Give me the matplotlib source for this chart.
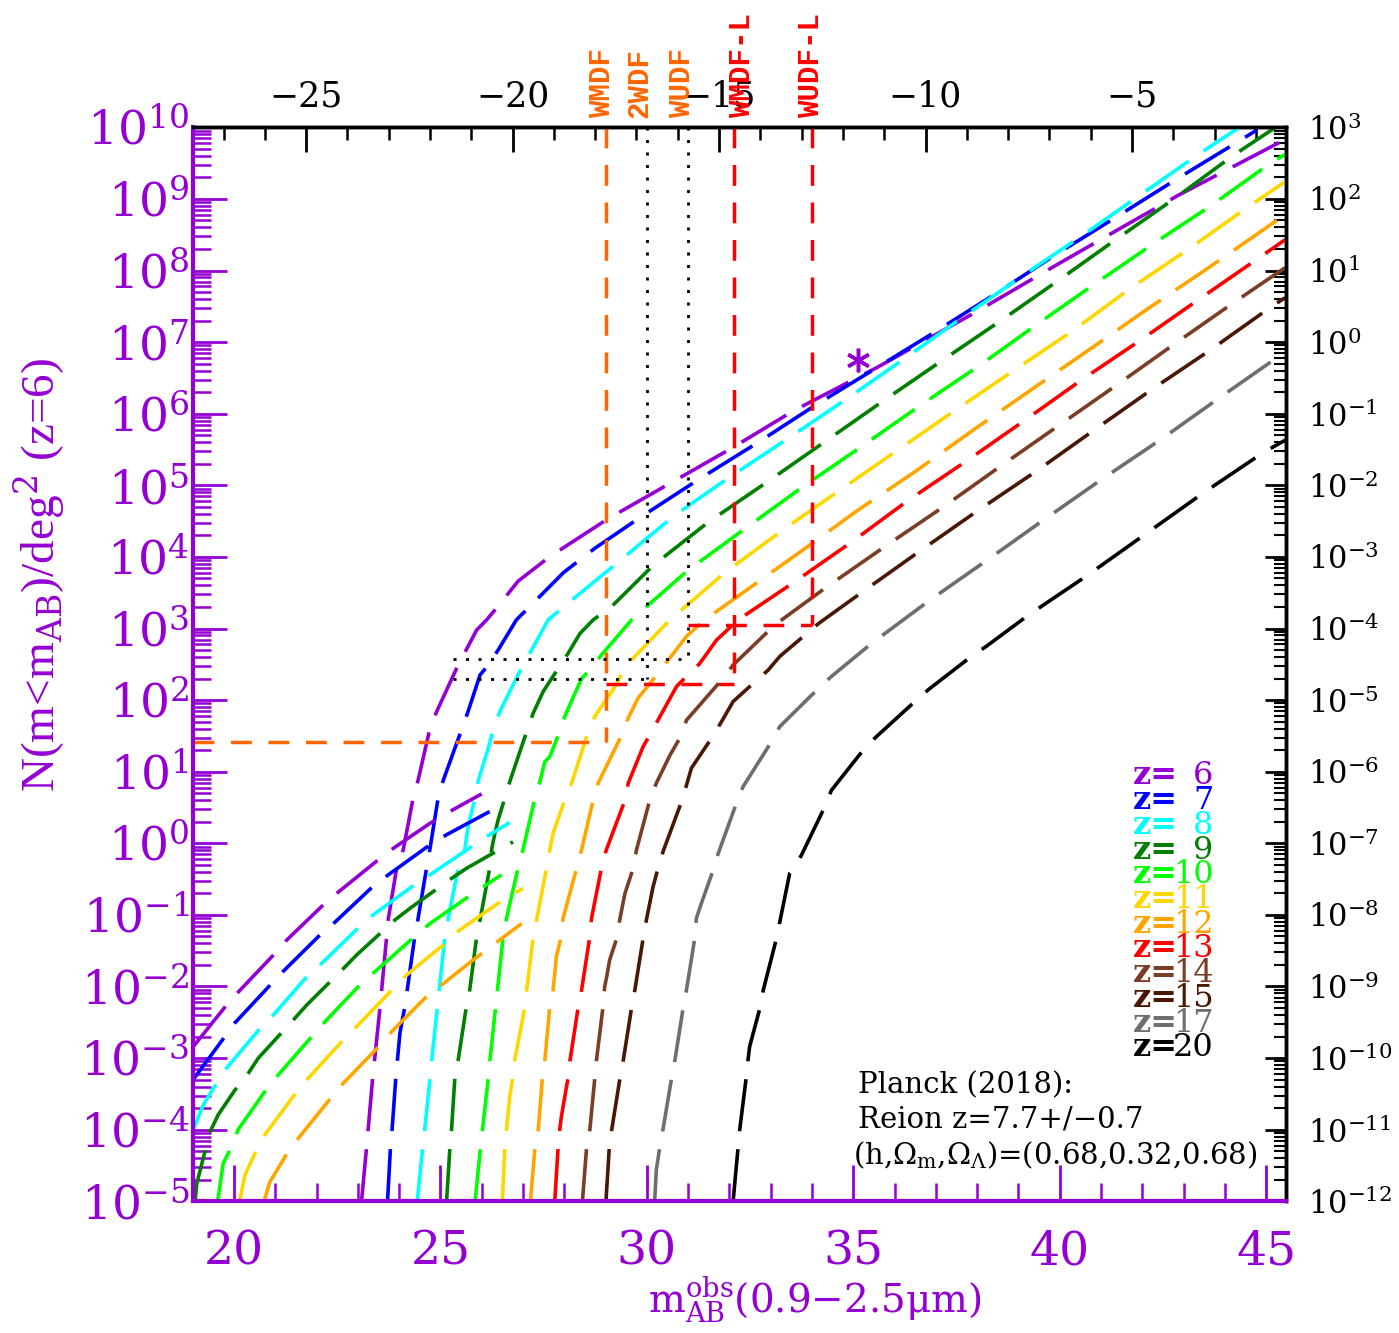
import numpy as np
import matplotlib.pyplot as plt
from matplotlib.ticker import FuncFormatter, NullFormatter, MultipleLocator, LogLocator

plt.rcParams['font.family'] = 'DejaVu Serif'
plt.rcParams['mathtext.fontset'] = 'dejavuserif'

PURPLE = '#9400d3'
M_OFFSET = 46.75  # apparent minus absolute magnitude (top axis)

redshifts = [6, 7, 8, 9, 10, 11, 12, 13, 14, 15, 17, 20]
colors = ['#9400d3', '#0000ff', '#00ffff', '#007f00', '#00ff00', '#ffd700',
          '#ffa500', '#ff0000', '#7a3d26', '#4a1705', '#6e6e6e', '#000000']

# cumulative counts, log10 N(<m)/deg^2, main branch
z6_m = [23.09, 23.21, 23.36, 23.54, 23.74, 23.94, 24.10, 24.34, 24.46, 24.75, 24.91, 25.43, 25.67, 25.88,
        26.12, 26.41, 26.88, 27.64, 29.08, 30.57, 32.06, 33.55, 35.59, 38.00, 39.90, 41.38, 42.87, 45.46]
z6_logn = [-5.0, -4.26, -3.28, -2.28, -1.05, -0.35, -0.09, 0.63, 0.88, 1.61, 1.84, 2.49, 2.75, 2.98,
           3.12, 3.32, 3.66, 4.00, 4.54, 5.03, 5.52, 6.04, 6.65, 7.43, 8.07, 8.56, 9.05, 9.83]
z7_m = [23.72, 23.79, 23.83, 23.92, 24.02, 24.14, 24.38, 24.46, 24.67, 24.75, 24.95, 25.07, 25.51, 25.67,
        25.96, 26.16, 26.40, 26.84, 27.43, 27.98, 28.74, 29.81, 31.25, 32.67, 34.06, 35.59, 37.03, 38.46,
        39.90, 41.38, 42.87, 44.35, 44.77]
z7_logn = [-5.0, -4.26, -4.0, -3.28, -2.65, -2.28, -1.30, -1.05, -0.33, -0.07, 0.65, 0.88, 1.58, 1.84,
           2.35, 2.49, 2.70, 3.12, 3.46, 3.78, 4.12, 4.54, 5.08, 5.59, 6.11, 6.65, 7.16, 7.68,
           8.22, 8.75, 9.29, 9.81, 9.96]
z8_m = [24.44, 24.57, 24.62, 24.75, 24.79, 24.93, 25.11, 25.19, 25.43, 25.59, 25.67, 25.84, 25.92, 26.16,
        26.28, 26.44, 27.00, 27.21, 27.61, 28.02, 29.25, 30.65, 31.97, 33.46, 34.90, 36.29, 37.68, 39.16,
        40.55, 41.94, 43.33, 44.35]
z8_logn = [-5.0, -4.26, -4.0, -3.28, -3.03, -2.28, -1.30, -1.05, -0.35, -0.09, 0.23, 0.63, 0.88, 1.33,
           1.58, 1.84, 2.49, 2.70, 3.12, 3.32, 3.90, 4.57, 5.10, 5.67, 6.23, 6.79, 7.36, 7.95,
           8.49, 9.05, 9.61, 10.0]
z9_m = [25.15, 25.23, 25.27, 25.35, 25.43, 25.63, 25.71, 25.88, 25.96, 26.20, 26.24, 26.32, 26.40, 26.56,
        26.68, 27.09, 27.25, 27.49, 27.85, 28.09, 28.38, 28.70, 29.17, 30.15, 31.50, 32.95, 34.34, 35.73,
        37.17, 38.60, 39.99, 41.38, 42.77, 44.21, 45.23]
z9_logn = [-5.0, -4.26, -4.0, -3.28, -3.03, -2.28, -2.05, -1.30, -1.07, -0.33, -0.09, 0.14, 0.33, 0.63,
           0.86, 1.56, 1.82, 2.12, 2.44, 2.65, 2.93, 3.12, 3.32, 3.88, 4.49, 5.06, 5.62, 6.18,
           6.75, 7.31, 7.87, 8.44, 9.00, 9.61, 10.0]
z10_m = [25.84, 25.97, 26.02, 26.16, 26.20, 26.34, 26.52, 26.60, 26.88, 27.00, 27.29, 27.41, 27.53, 27.65,
         27.89, 28.01, 28.42, 28.62, 28.90, 29.63, 30.06, 30.99, 32.39, 33.78, 35.22, 36.66, 38.05, 39.48,
         40.87, 42.31, 43.65, 45.13, 45.46]
z10_logn = [-5.0, -4.26, -4.0, -3.28, -3.03, -2.28, -1.30, -1.05, -0.35, -0.09, 0.63, 0.86, 1.14, 1.21,
            1.56, 1.77, 2.30, 2.42, 2.63, 3.12, 3.34, 3.81, 4.40, 4.98, 5.55, 6.13, 6.67, 7.26,
            7.82, 8.39, 8.90, 9.51, 9.62]
z11_m = [26.50, 26.56, 26.60, 26.68, 26.75, 26.80, 27.05, 27.09, 27.25, 27.33, 27.57, 27.65, 27.73, 28.01,
         28.18, 28.58, 28.74, 29.23, 29.43, 29.71, 30.56, 31.89, 33.28, 34.62, 36.10, 37.45, 38.88, 40.32,
         41.71, 43.15, 44.54, 45.46]
z11_logn = [-5.0, -4.26, -4.0, -3.54, -3.28, -3.03, -2.28, -2.05, -1.30, -1.07, -0.35, -0.09, 0.14, 0.60,
            0.84, 1.56, 1.77, 2.19, 2.40, 2.61, 3.12, 3.78, 4.37, 4.91, 5.50, 6.04, 6.60, 7.16,
            7.75, 8.31, 8.88, 9.24]
z12_m = [27.18, 27.29, 27.37, 27.47, 27.53, 27.65, 27.73, 27.81, 27.93, 27.97, 28.30, 28.42, 28.70, 28.82,
         29.39, 29.55, 29.79, 30.27, 30.52, 30.96, 31.40, 33.74, 35.08, 36.52, 37.95, 39.35, 40.78, 42.17,
         43.61, 45.46]
z12_logn = [-5.0, -4.26, -4.0, -3.28, -3.03, -2.28, -2.05, -1.58, -1.30, -1.05, -0.35, -0.09, 0.60, 0.84,
            1.51, 1.75, 2.03, 2.37, 2.56, 2.89, 3.12, 4.08, 4.64, 5.20, 5.79, 6.35, 6.92, 7.48,
            8.04, 8.78]
z13_m = [27.77, 27.85, 27.89, 27.93, 28.09, 28.14, 28.34, 28.42, 28.62, 28.66, 28.90, 29.02, 29.47, 29.55,
         29.91, 30.07, 30.27, 30.72, 30.96, 31.28, 31.69, 32.21, 33.55, 34.99, 36.33, 37.77, 39.16, 40.55,
         41.99, 43.38, 44.81, 45.46]
z13_logn = [-5.0, -4.26, -4.0, -3.82, -3.28, -3.03, -2.28, -2.05, -1.30, -1.05, -0.35, -0.09, 0.60, 0.84,
            1.35, 1.51, 1.72, 2.19, 2.33, 2.51, 2.84, 3.12, 3.64, 4.22, 4.79, 5.35, 5.91, 6.48,
            7.04, 7.60, 8.17, 8.43]
z14_m = [28.44, 28.54, 28.62, 28.74, 28.78, 28.94, 28.98, 29.02, 29.10, 29.27, 29.35, 29.47, 29.67, 29.75,
         30.07, 30.23, 30.56, 30.84, 30.96, 31.81, 32.09, 33.10, 34.38, 35.78, 37.21, 38.60, 39.99, 41.38,
         42.82, 44.21, 45.46]
z14_logn = [-5.0, -4.26, -4.0, -3.28, -3.03, -2.28, -2.0, -1.89, -1.63, -1.33, -1.05, -0.70, -0.35, -0.09,
            0.60, 0.84, 1.23, 1.51, 1.72, 2.28, 2.49, 3.05, 3.59, 4.15, 4.71, 5.28, 5.84, 6.40,
            6.99, 7.55, 8.04]
z15_m = [29.01, 29.09, 29.15, 29.35, 29.43, 29.63, 29.71, 29.91, 29.99, 30.15, 30.27, 30.39, 30.84, 30.96,
         31.08, 31.57, 31.81, 32.09, 32.57, 32.94, 33.22, 34.16, 35.22, 36.61, 38.00, 39.44, 40.83, 42.26,
         43.65, 45.09, 45.46]
z15_logn = [-5.0, -4.26, -4.0, -3.28, -3.03, -2.30, -2.05, -1.33, -1.07, -0.61, -0.35, -0.12, 0.58, 0.81,
            1.05, 1.47, 1.70, 1.98, 2.23, 2.42, 2.61, 3.07, 3.51, 4.08, 4.64, 5.20, 5.77, 6.35,
            6.89, 7.48, 7.62]
z17_m = [30.19, 30.23, 30.31, 30.39, 30.60, 30.68, 30.88, 30.96, 31.16, 31.20, 31.29, 31.61, 31.73, 32.17,
         32.33, 33.02, 33.22, 34.15, 34.47, 35.44, 36.84, 38.23, 39.62, 41.01, 42.45, 43.84, 45.23, 45.46]
z17_logn = [-5.0, -4.56, -4.26, -4.0, -3.28, -3.03, -2.30, -2.05, -1.33, -1.05, -0.89, -0.37, -0.14, 0.56,
            0.79, 1.42, 1.63, 2.16, 2.33, 2.79, 3.39, 3.95, 4.52, 5.08, 5.64, 6.21, 6.77, 6.82]
z20_m = [32.09, 32.25, 32.41, 32.45, 32.49, 32.74, 32.82, 33.14, 33.22, 33.46, 33.54, 33.75, 34.31, 34.47,
         35.28, 35.56, 36.53, 36.85, 37.86, 38.22, 39.25, 40.64, 42.08, 43.47, 44.91, 45.46]
z20_logn = [-5.0, -4.0, -3.26, -3.03, -2.84, -2.30, -2.05, -1.33, -1.10, -0.42, -0.37, -0.16, 0.51, 0.74,
            1.33, 1.49, 2.00, 2.16, 2.61, 2.75, 3.19, 3.73, 4.32, 4.89, 5.45, 5.63]

# bright-end branch (z = 6 - 12)
z6_bright_m = [19.00, 19.82, 20.15, 20.99, 21.28, 22.20, 22.53, 23.54, 23.86, 24.75, 25.31, 26.00]
z6_bright_logn = [-2.85, -2.26, -2.05, -1.54, -1.35, -0.84, -0.68, -0.21, -0.07, 0.28, 0.47, 0.69]
z7_bright_m = [19.00, 19.78, 20.02, 20.91, 21.19, 22.12, 22.45, 23.37, 23.74, 24.75, 25.15, 26.28]
z7_bright_logn = [-3.31, -2.70, -2.51, -1.96, -1.79, -1.26, -1.10, -0.60, -0.44, -0.02, 0.12, 0.47]
z8_bright_m = [19.00, 19.26, 19.58, 19.82, 20.67, 20.95, 21.80, 22.12, 23.05, 23.37, 24.42, 24.75,
               26.08, 26.68]
z8_bright_logn = [-4.02, -3.65, -3.35, -3.14, -2.56, -2.40, -1.84, -1.68, -1.16, -1.00, -0.56, -0.44,
                  0.08, 0.29]
z9_bright_m = [19.06, 19.10, 19.42, 19.62, 20.02, 20.35, 20.59, 21.48, 21.76, 22.65, 22.97, 23.90,
               24.26, 25.27, 25.63, 26.76]
z9_bright_logn = [-5.0, -4.75, -4.03, -3.79, -3.45, -3.21, -3.00, -2.44, -2.26, -1.75, -1.56, -1.07,
                  -0.91, -0.49, -0.35, 0.02]
z10_bright_m = [19.60, 19.62, 19.74, 19.94, 20.10, 20.83, 21.11, 21.96, 22.24, 23.13, 23.46, 24.42,
                24.75, 25.79, 26.48]
z10_bright_logn = [-5.0, -4.94, -4.47, -4.24, -4.00, -3.40, -3.21, -2.65, -2.47, -1.93, -1.77, -1.28,
                   -1.12, -0.70, -0.44]
z11_bright_m = [20.13, 20.15, 20.27, 20.55, 20.75, 21.52, 21.80, 22.69, 22.97, 23.86, 24.18, 25.11,
                25.47, 26.52, 27.00]
z11_bright_logn = [-5.0, -4.96, -4.63, -4.28, -4.07, -3.47, -3.28, -2.72, -2.56, -2.03, -1.84, -1.40,
                   -1.21, -0.79, -0.63]
z12_bright_m = [20.73, 20.75, 20.87, 21.31, 21.56, 22.37, 22.65, 23.54, 23.82, 24.70, 25.07, 25.79, 26.97]
z12_bright_logn = [-5.0, -4.96, -4.73, -4.31, -4.12, -3.54, -3.35, -2.82, -2.63, -2.12, -1.96, -1.63,
                   -1.12]

# survey limits
survey_names = ["WMDF", "2WDF", "WUDF", "WMDF-L", "WUDF-L"]
survey_mlim = [29.0, 30.0, 31.0, 32.1, 34.0]
survey_nlim = [26, 197, 381, 168, 1120]
survey_mstart = [19.0, 25.3, 25.3, 29.0, 31.0]
survey_label_m = [28.92, 29.81, 30.86, 32.31, 33.97]
survey_colors = ['#ff6600', 'k', 'k', '#ff0000', '#ff0000']
survey_label_colors = ['#ff6600', '#ff6600', '#ff6600', '#ff0000', '#ff0000']

star_m, star_logn = 35.12, 6.75

main = [(z6_m, z6_logn), (z7_m, z7_logn), (z8_m, z8_logn), (z9_m, z9_logn),
        (z10_m, z10_logn), (z11_m, z11_logn), (z12_m, z12_logn), (z13_m, z13_logn),
        (z14_m, z14_logn), (z15_m, z15_logn), (z17_m, z17_logn), (z20_m, z20_logn)]
bright = [(z6_bright_m, z6_bright_logn), (z7_bright_m, z7_bright_logn),
          (z8_bright_m, z8_bright_logn), (z9_bright_m, z9_bright_logn),
          (z10_bright_m, z10_bright_logn), (z11_bright_m, z11_bright_logn),
          (z12_bright_m, z12_bright_logn)]

fig = plt.figure(figsize=(13.99, 13.33), dpi=100)
ax = fig.add_axes([0.1383, 0.0988, 0.7806, 0.8057])

curve_dashes = (14.5, 5.0)
for (m, logn), c in zip(main, colors):
    ax.plot(m, 10 ** np.array(logn), color=c, lw=2.6, dashes=curve_dashes)
for (m, logn), c in zip(bright, colors):
    ax.plot(m, 10 ** np.array(logn), color=c, lw=2.6, dashes=curve_dashes)

# survey depth markers
for name, ml, nl, ms, lm, c, lc in zip(survey_names, survey_mlim, survey_nlim, survey_mstart,
                                       survey_label_m, survey_colors, survey_label_colors):
    ls = (1.1, 3.4) if c == 'k' else (6.0, 4.8)
    lw = 2.0 if c == 'k' else 2.5
    ax.plot([ml, ml], [1e10, nl], color=c, lw=lw, dashes=ls)
    ax.plot([ms, ml], [nl, nl], color=c, lw=lw, dashes=ls)
    ax.text(lm, 1.0087, name, transform=ax.get_xaxis_transform(), rotation=90,
            ha='center', va='bottom', color=lc, fontsize=21, family='Liberation Mono',
            fontweight='bold', clip_on=False)

ax.plot([star_m], [10 ** star_logn], marker=(6, 2, 0), ms=17, mew=2.5, color=PURPLE, ls='none')

ax.set_yscale('log')
ax.set_xlim(19.02, 45.47)
ax.set_ylim(1e-5, 1e10)

# legend
for i, (z, c) in enumerate(zip(redshifts, colors)):
    yy = 0.396 - i * 0.0230
    ax.text(0.860, yy, "z=", transform=ax.transAxes, color=c, fontsize=23,
            ha='left', va='center', fontweight='bold')
    ax.text(0.934, yy, str(z), transform=ax.transAxes, color=c, fontsize=23,
            ha='right', va='center')

ax.text(0.6085, 0.108, "Planck (2018):", transform=ax.transAxes, fontsize=21, va='center')
ax.text(0.6085, 0.0757, "Reion z=7.7+/\u22120.7", transform=ax.transAxes, fontsize=21, va='center')
ax.text(0.6035, 0.043, r"(h,$\Omega_{\rm m}$,$\Omega_{\Lambda}$)=(0.68,0.32,0.68)",
        transform=ax.transAxes, fontsize=21, va='center')

# axes styling
def pow10(v, pos):
    return r"$10^{%d}$" % int(round(np.log10(v)))

ax.yaxis.set_major_locator(LogLocator(base=10, numticks=30))
ax.yaxis.set_minor_locator(LogLocator(base=10, subs=np.arange(2, 10), numticks=30))
ax.yaxis.set_major_formatter(FuncFormatter(pow10))
ax.yaxis.set_minor_formatter(NullFormatter())
ax.xaxis.set_major_locator(MultipleLocator(5))
ax.xaxis.set_minor_locator(MultipleLocator(1))

ax.tick_params(axis='both', which='both', direction='in', colors=PURPLE,
               top=False, right=False)
ax.tick_params(axis='y', which='major', length=24.5, width=2.0, labelsize=34, pad=3)
ax.tick_params(axis='y', which='minor', length=12.6, width=1.8)
ax.tick_params(axis='x', which='major', length=25.6, width=2.0, labelsize=34, pad=20)
ax.tick_params(axis='x', which='minor', length=12.8, width=1.8)

for side in ['left', 'bottom']:
    ax.spines[side].set_color(PURPLE)
    ax.spines[side].set_linewidth(3)
for side in ['top', 'right']:
    ax.spines[side].set_color('k')
    ax.spines[side].set_linewidth(2.5)

top = ax.secondary_xaxis('top', functions=(lambda m: m - M_OFFSET, lambda M: M + M_OFFSET))
top.xaxis.set_major_locator(MultipleLocator(5))
top.xaxis.set_minor_locator(MultipleLocator(1))
top.xaxis.set_major_formatter(FuncFormatter(
    lambda v, p: "%d" % int(round(v)) if v >= 0 else "\u2212%d" % int(round(-v))))
top.tick_params(axis='x', which='both', direction='in', colors='k')
top.tick_params(axis='x', which='major', length=18, width=2.0, labelsize=25, pad=10)
top.tick_params(axis='x', which='minor', length=9.4, width=1.8)
top.spines['top'].set_color('k')
top.spines['top'].set_linewidth(2.5)

right = ax.secondary_yaxis('right', functions=(lambda n: n * 1e-7, lambda n: n * 1e7))
right.yaxis.set_major_locator(LogLocator(base=10, numticks=30))
right.yaxis.set_minor_locator(LogLocator(base=10, subs=np.arange(2, 10), numticks=30))
right.yaxis.set_major_formatter(FuncFormatter(pow10))
right.yaxis.set_minor_formatter(NullFormatter())
right.tick_params(axis='y', which='both', direction='in', colors='k')
right.tick_params(axis='y', which='major', length=15, width=2.0, labelsize=22, pad=16)
right.tick_params(axis='y', which='minor', length=8.3, width=1.5)
right.spines['right'].set_color('k')
right.spines['right'].set_linewidth(2.5)

ax.set_ylabel(r"N(m<m$_{\rm AB}$)/deg$^2$ (z=6)", color=PURPLE, fontsize=34,
              family='Liberation Serif')
ax.yaxis.set_label_coords(-0.115, 0.583)
ax.set_xlabel("m$_{\\rm AB}^{\\rm obs}$(0.9\u22122.5\u03bcm)", color=PURPLE, fontsize=28)
ax.xaxis.set_label_coords(0.569, -0.068)

fig.savefig("out.png", dpi=100)
